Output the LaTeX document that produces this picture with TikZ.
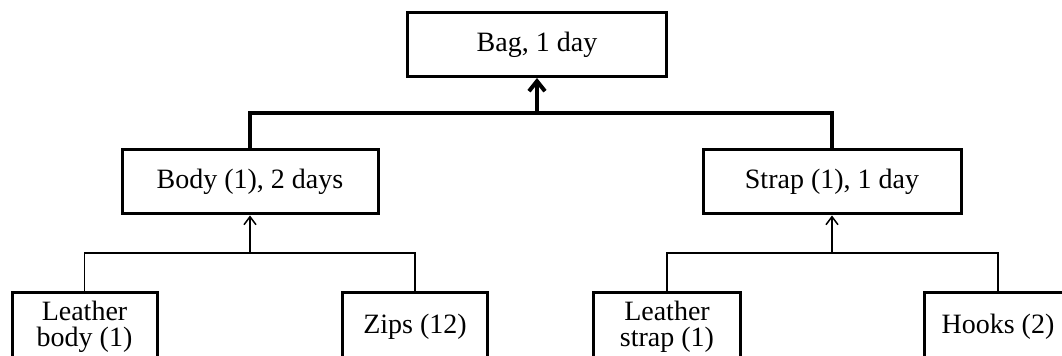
\documentclass[tikz,border=0pt]{standalone}
\usepackage{fontspec}
\setmainfont{Liberation Serif}
\usetikzlibrary{arrows.meta}

\begin{document}
\begin{tikzpicture}[x=0.5pt, y=-0.5pt,
  % common options for the boxes:
  item/.style = {draw, line width=1.5pt, align=center, inner sep=0,
              minimum height=32pt, font=\fontsize{14}{13}\selectfont},
  % the parts at the bottom run off the page:
  part/.style = {item, minimum height=34pt},
  % options for the connectors:
  upper/.style = {line width=2pt},
  lower/.style = {line width=0.75pt}
	]
  \path[use as bounding box, clip] (0,0) rectangle (1062,356);

  \node[item, minimum width=129.5pt] (bag) at (537,44.5) {Bag, 1 day};
  \node[item, minimum width=128pt] (body) at (250,182) {Body (1), 2 days};
  \node[item, minimum width=129pt] (strap) at (832,182) {Strap (1), 1 day};

  \node[part, minimum width=72.5pt] (lbody) at (84.5,327) {Leather\\body (1)};
  \node[part, minimum width=72.5pt] (zips) at (415,327) {Zips (12)};
  \node[part, minimum width=73.5pt] (lstrap) at (667,327) {Leather\\strap (1)};
  \node[part, minimum width=74pt] (hooks) at (998,327) {Hooks (2)};

  \coordinate (top) at (537,113);
  \coordinate (left) at (250,253);
  \coordinate (right) at (832,253);

  \draw[upper] (body.north) |- (top) -| (strap.north);
  \draw[upper,-{Straight Barb[length=5pt,width=8pt]}] (top) -- (bag.south);
  \draw[lower] (lbody.north) |- (left) -| (zips.north);
  \draw[lower,-{Straight Barb[length=4pt,width=6pt]}] (left) -- (body.south);
  \draw[lower] (lstrap.north) |- (right) -| (hooks.north);
  \draw[lower,-{Straight Barb[length=4pt,width=6pt]}] (right) -- (strap.south);
\end{tikzpicture}
\end{document}
